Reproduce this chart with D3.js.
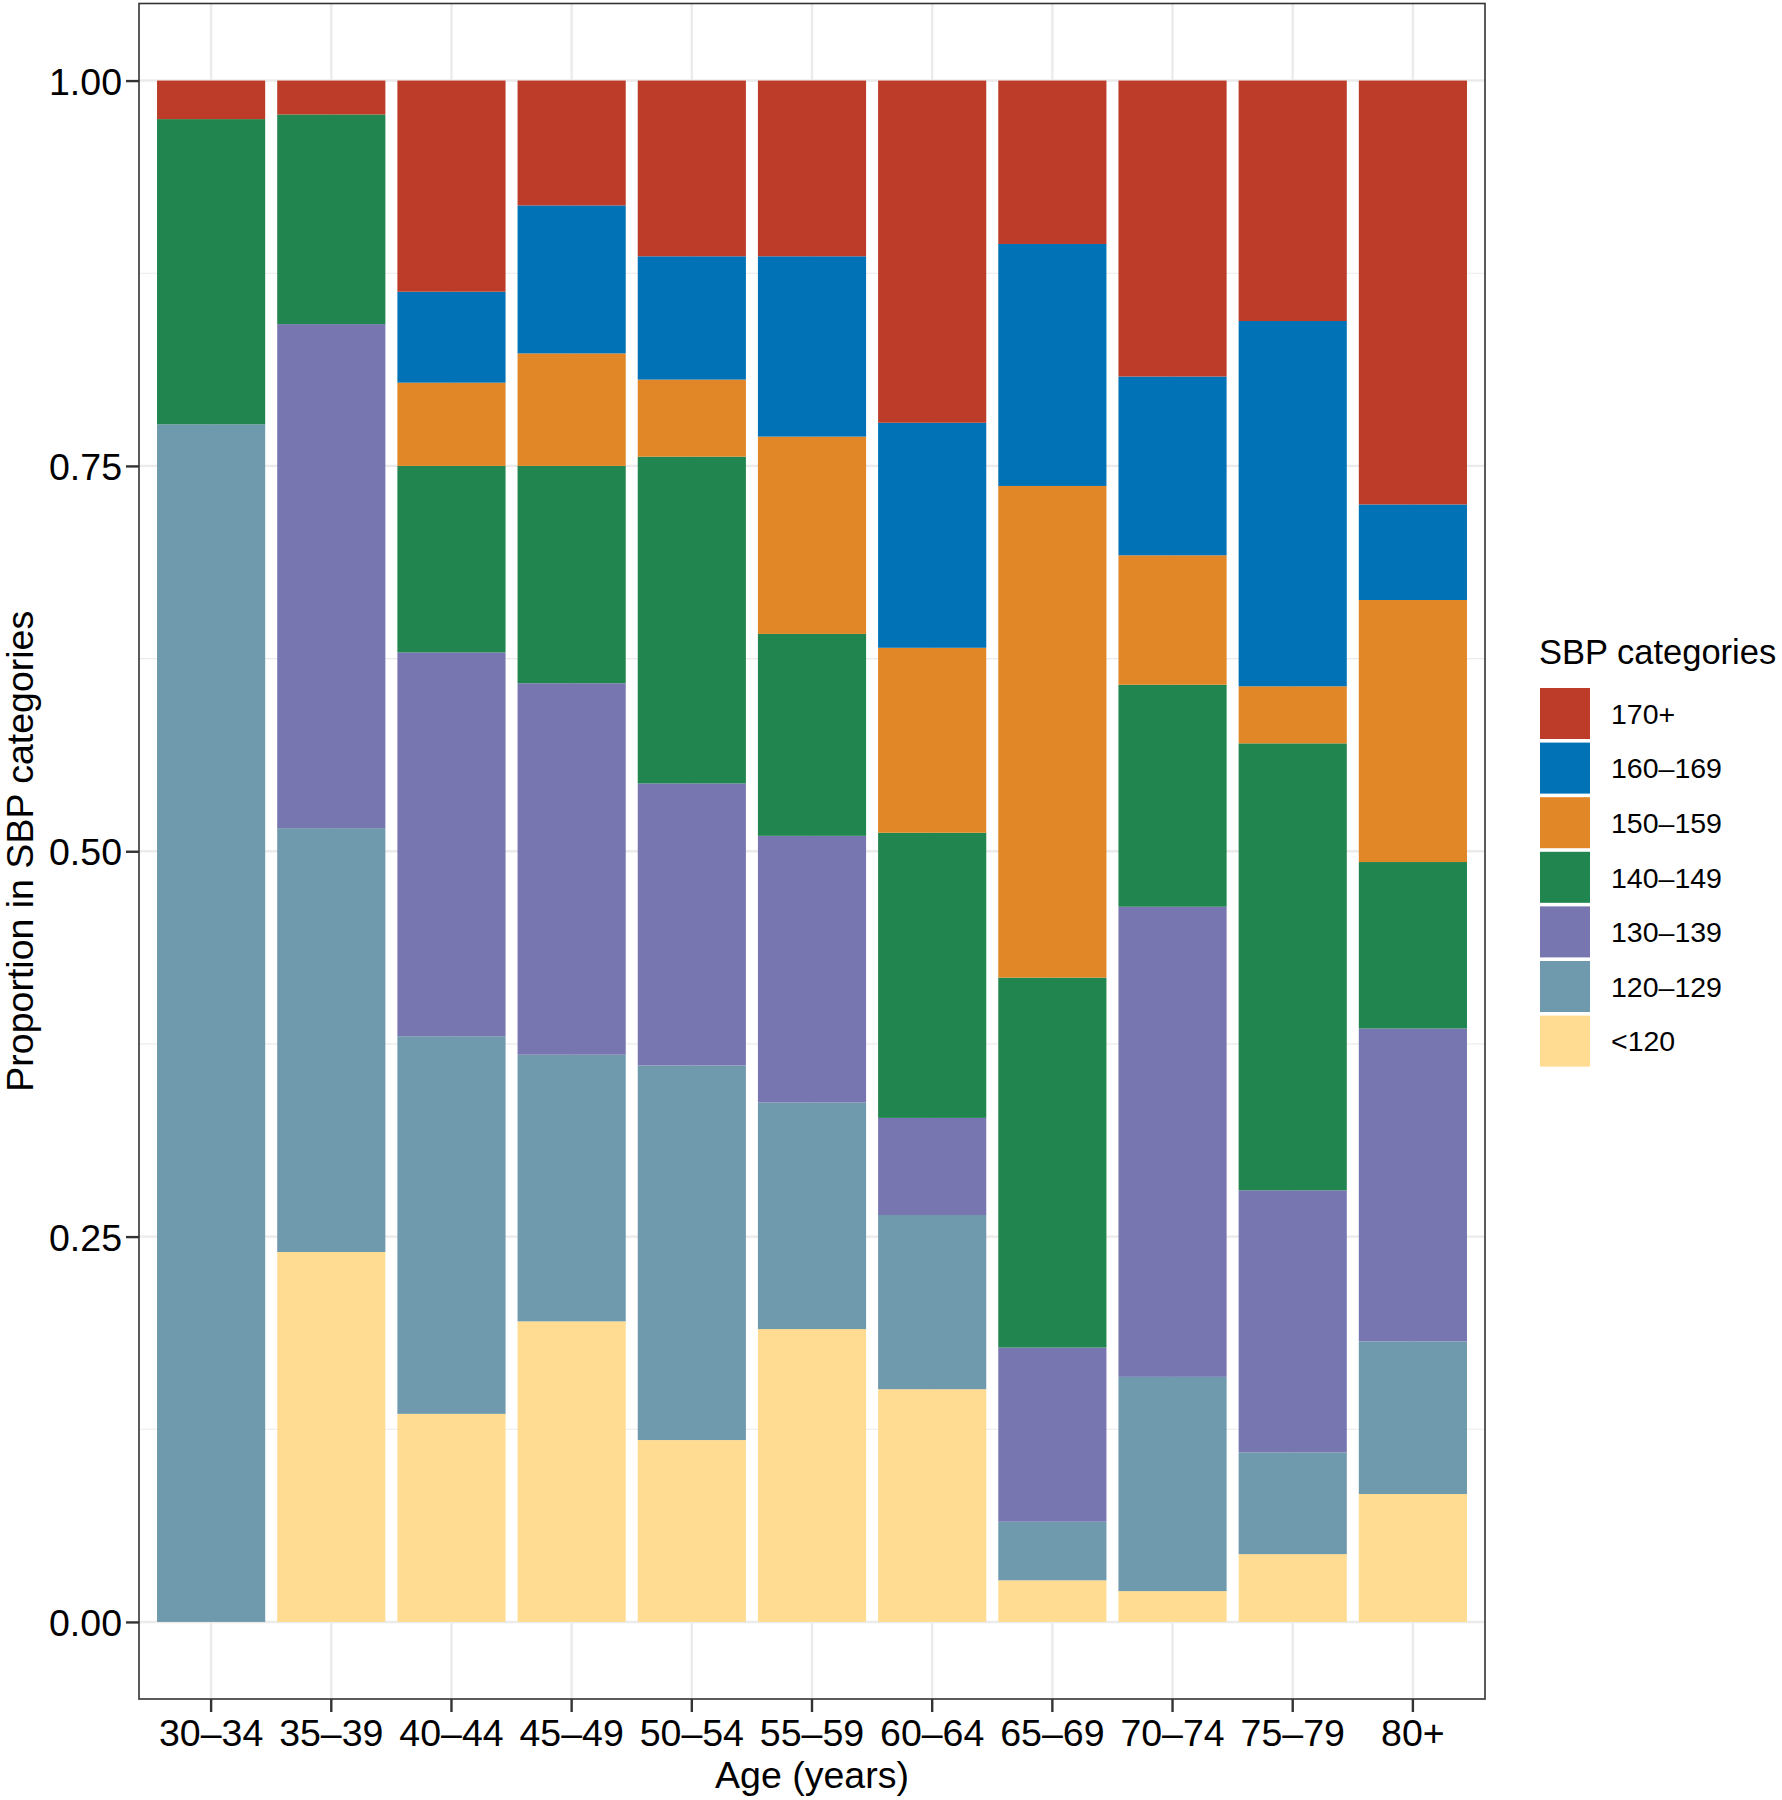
<!DOCTYPE html>
<html>
<head>
<meta charset="utf-8">
<script src="https://cdn.jsdelivr.net/npm/d3@7"></script>
<style>
  body { margin: 0; background: #fff; }
  text { font-family: "Liberation Sans", Arial, sans-serif; fill: #000; }
</style>
</head>
<body>
<div id="chart"></div>
<script>
// Age groups (x axis)
const ageGroups = ["30–34", "35–39", "40–44", "45–49", "50–54", "55–59", "60–64", "65–69", "70–74", "75–79", "80+"];

// SBP categories, stacked bottom to top
const sbpCategories = ["<120", "120–129", "130–139", "140–149", "150–159", "160–169", "170+"];
const sbpColors = ["#FFDC91", "#6F99AD", "#7876B1", "#20854E", "#E18727", "#0072B5", "#BC3C29"];

// proportions per category, one value per age group
const lt120   = [0.000, 0.240, 0.135, 0.195, 0.118, 0.190, 0.151, 0.027, 0.020, 0.044, 0.083];
const s120    = [0.777, 0.275, 0.245, 0.173, 0.243, 0.147, 0.113, 0.038, 0.139, 0.066, 0.099];
const s130    = [0.000, 0.327, 0.249, 0.241, 0.183, 0.173, 0.063, 0.113, 0.305, 0.170, 0.203];
const s140    = [0.198, 0.136, 0.121, 0.141, 0.212, 0.131, 0.185, 0.240, 0.144, 0.290, 0.108];
const s150    = [0.000, 0.000, 0.054, 0.073, 0.050, 0.128, 0.120, 0.319, 0.084, 0.037, 0.170];
const s160    = [0.000, 0.000, 0.059, 0.096, 0.080, 0.117, 0.146, 0.157, 0.116, 0.237, 0.062];
const s170    = [0.025, 0.022, 0.137, 0.081, 0.114, 0.114, 0.222, 0.106, 0.192, 0.156, 0.275];

const yTicks = [0, 0.25, 0.5, 0.75, 1];
const yMinor = [0.125, 0.375, 0.625, 0.875];

const series = [lt120, s120, s130, s140, s150, s160, s170];
const rows = ageGroups.map((g, i) => {
    const r = { age: g };
    sbpCategories.forEach((c, k) => { r[c] = series[k][i]; });
    return r;
});

const W = 1782, H = 1800;
const panel = { left: 139, right: 1485, top: 3.5, bottom: 1699 };

const svg = d3.select("#chart").append("svg").attr("width", W).attr("height", H);

const x = d3.scaleBand()
    .domain(ageGroups)
    .range([panel.left, panel.right])
    .paddingInner(0.1)
    .paddingOuter(0.15);

const y = d3.scaleLinear()
    .domain([-0.05, 1.05])
    .range([panel.bottom, panel.top]);

const color = d3.scaleOrdinal().domain(sbpCategories).range(sbpColors);

// grid
const grid = svg.append("g");
grid.selectAll(".minor").data(yMinor).enter().append("line")
    .attr("x1", panel.left).attr("x2", panel.right)
    .attr("y1", d => y(d)).attr("y2", d => y(d))
    .attr("stroke", "#ebebeb").attr("stroke-width", 1.2);
grid.selectAll(".major").data(yTicks).enter().append("line")
    .attr("x1", panel.left).attr("x2", panel.right)
    .attr("y1", d => y(d)).attr("y2", d => y(d))
    .attr("stroke", "#ebebeb").attr("stroke-width", 2.4);
grid.selectAll(".vmajor").data(ageGroups).enter().append("line")
    .attr("x1", d => x(d) + x.bandwidth() / 2).attr("x2", d => x(d) + x.bandwidth() / 2)
    .attr("y1", panel.top).attr("y2", panel.bottom)
    .attr("stroke", "#ebebeb").attr("stroke-width", 2.4);

// stacked bars
const stack = d3.stack().keys(sbpCategories)(rows);
svg.append("g").selectAll("g")
    .data(stack)
    .enter().append("g")
    .attr("fill", d => color(d.key))
    .selectAll("rect")
    .data(d => d)
    .enter().append("rect")
    .attr("x", d => x(d.data.age))
    .attr("width", x.bandwidth())
    .attr("y", d => y(Math.min(d[1], 1)))
    .attr("height", d => y(d[0]) - y(Math.min(d[1], 1)));

// panel border
svg.append("rect")
    .attr("x", panel.left).attr("y", panel.top)
    .attr("width", panel.right - panel.left).attr("height", panel.bottom - panel.top)
    .attr("fill", "none").attr("stroke", "#333333").attr("stroke-width", 1.6);

// axes
const yAxis = svg.append("g")
    .attr("transform", `translate(${panel.left},0)`)
    .call(d3.axisLeft(y).tickValues(yTicks).tickFormat(d3.format(".2f")).tickSize(13).tickPadding(4));
const xAxis = svg.append("g")
    .attr("transform", `translate(0,${panel.bottom})`)
    .call(d3.axisBottom(x).tickSize(13).tickPadding(6));

[yAxis, xAxis].forEach(a => {
    a.select(".domain").remove();
    a.selectAll(".tick line").attr("stroke", "#333333").attr("stroke-width", 2.4);
    a.selectAll(".tick text").style("font-size", "37.5px").attr("fill", "#000");
});
yAxis.selectAll(".tick text").attr("dy", "0.36em");
xAxis.selectAll(".tick text").attr("dy", "0.74em");

// axis titles
svg.append("text")
    .attr("x", (panel.left + panel.right) / 2).attr("y", 1788)
    .attr("text-anchor", "middle").style("font-size", "37.5px")
    .text("Age (years)");
svg.append("text")
    .attr("transform", `translate(33,${(panel.top + panel.bottom) / 2}) rotate(-90)`)
    .attr("text-anchor", "middle").style("font-size", "37.5px")
    .text("Proportion in SBP categories");

// legend
const legend = svg.append("g").attr("transform", "translate(1539,0)");
legend.append("text").attr("x", 0).attr("y", 664).style("font-size", "34.5px").text("SBP categories");
const legendItems = sbpCategories.slice().reverse();
const item = legend.selectAll(".item").data(legendItems).enter().append("g")
    .attr("transform", (d, i) => `translate(0,${688 + i * 54.6})`);
item.append("rect")
    .attr("x", 1).attr("y", 0).attr("width", 50).attr("height", 51)
    .attr("fill", d => color(d));
item.append("text")
    .attr("x", 72).attr("y", 25.5).attr("dy", "0.36em")
    .style("font-size", "28.5px")
    .text(d => d);
</script>
</body>
</html>
